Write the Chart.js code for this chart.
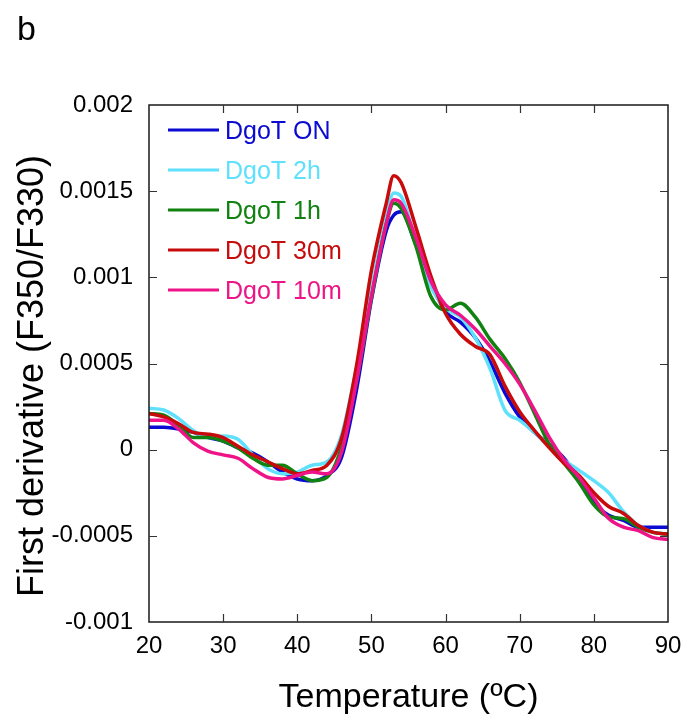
<!DOCTYPE html>
<html>
<head>
<meta charset="utf-8">
<script src="https://cdn.jsdelivr.net/npm/chart.js@4"></script>
<style>
  html, body { margin: 0; padding: 0; background: #ffffff; }
  #wrap { width: 685px; height: 718px; position: relative; }
</style>
</head>
<body>
<div id="wrap"><canvas id="c"></canvas></div>
<script>
// ---- Data ----
const temperatures = [20,22,24,26,28,30,32,34,36,38,40,42,44,46,48,50,52,53,54,56,58,60,62,64,66,68,70,72,74,76,78,80,82,84,86,88,90];

const seriesNames = ["DgoT ON", "DgoT 2h", "DgoT 1h", "DgoT 30m", "DgoT 10m"];
const seriesColors = ["#0a0ad2", "#5fe0fc", "#0f820f", "#c80a0a", "#ee1488"];

const dgotON  = [0.00013,0.00013,0.00012,0.00010,0.00007,0.00005,0.00001,-0.00002,-0.00007,-0.00013,-0.00017,-0.00018,-0.00015,-0.00004,0.00035,0.00087,0.00127,0.00136,0.00138,0.00119,0.00097,0.00080,0.00074,0.00065,0.00051,0.00033,0.00019,0.00010,0.00003,-0.00005,-0.00017,-0.00031,-0.00038,-0.00041,-0.00045,-0.00045,-0.00045];
const dgot2h  = [0.00024,0.00023,0.00018,0.00011,0.00007,0.00008,0.00006,-0.00003,-0.00011,-0.00014,-0.00013,-0.00009,-0.00007,0.00009,0.00048,0.00093,0.00135,0.00149,0.00147,0.00121,0.00095,0.00082,0.00077,0.00065,0.00047,0.00023,0.00017,0.00010,0.00002,-0.00006,-0.00012,-0.00018,-0.00025,-0.00036,-0.00044,-0.00048,-0.00049];
const dgot1h  = [0.00021,0.00020,0.00014,0.00007,0.00007,0.00005,0.00001,-0.00005,-0.00009,-0.00009,-0.00014,-0.00018,-0.00016,0.00002,0.00040,0.00088,0.00131,0.00143,0.00140,0.00118,0.00089,0.00081,0.00085,0.00077,0.00064,0.00053,0.00039,0.00021,0.00003,-0.00008,-0.00019,-0.00032,-0.00039,-0.00040,-0.00045,-0.00048,-0.00049];
const dgot30m = [0.00021,0.00019,0.00015,0.00010,0.00009,0.00007,0.00002,-0.00003,-0.00007,-0.00011,-0.00014,-0.00012,-0.00009,0.00007,0.00049,0.00104,0.00143,0.00159,0.00155,0.00129,0.00101,0.00079,0.00067,0.00060,0.00055,0.00037,0.00022,0.00011,0.00001,-0.00008,-0.00015,-0.00025,-0.00033,-0.00037,-0.00044,-0.00048,-0.00049];
const dgot10m = [0.00017,0.00017,0.00012,0.00004,-0.00001,-0.00003,-0.00005,-0.00011,-0.00016,-0.00017,-0.00015,-0.00013,-0.00014,-0.00001,0.00040,0.00089,0.00131,0.00145,0.00143,0.00123,0.00098,0.00084,0.00078,0.00070,0.00060,0.00050,0.00038,0.00023,0.00007,-0.00006,-0.00016,-0.00028,-0.00040,-0.00045,-0.00047,-0.00051,-0.00052];
const seriesValues = [dgotON, dgot2h, dgot1h, dgot30m, dgot10m];

const xTickLabels = ["20","30","40","50","60","70","80","90"];
const yTickLabels = ["-0.001","-0.0005","0","0.0005","0.001","0.0015","0.002"];
const xMin = 20, xMax = 90, xStep = 10;
const yMin = -0.001, yMax = 0.002, yStep = 0.0005;

const FONT = '"Liberation Sans", Arial, Helvetica, sans-serif';

// ---- Datasets ----
const drawOrder = [4, 3, 2, 1, 0]; // pink on top
const datasets = seriesNames.map((name, i) => ({
  label: name,
  data: temperatures.map((t, k) => ({ x: t, y: seriesValues[i][k] })),
  borderColor: seriesColors[i],
  backgroundColor: seriesColors[i],
  borderWidth: 3.5,
  pointRadius: 0,
  fill: false,
  cubicInterpolationMode: 'monotone',
  order: drawOrder[i]
}));

// ---- Decorations plugin: frame, inward ticks, legend, titles ----
const decor = {
  id: 'decor',
  afterDraw(chart) {
    const ctx = chart.ctx;
    const { left, right, top, bottom } = chart.chartArea;
    const xs = chart.scales.x, ys = chart.scales.y;
    ctx.save();
    // frame
    ctx.strokeStyle = '#1a1a1a';
    ctx.lineWidth = 1.5;
    ctx.strokeRect(left, top, right - left, bottom - top);
    // inward ticks
    ctx.strokeStyle = '#333';
    ctx.lineWidth = 1.2;
    const tl = 8;
    xs.ticks.forEach(t => {
      if (t.value <= xMin || t.value >= xMax) return;
      const px = Math.round(xs.getPixelForValue(t.value)) + 0.5;
      ctx.beginPath();
      ctx.moveTo(px, bottom); ctx.lineTo(px, bottom - tl);
      ctx.moveTo(px, top); ctx.lineTo(px, top + tl);
      ctx.stroke();
    });
    ys.ticks.forEach(t => {
      const idx = Math.round((t.value - yMin) / yStep);
      if (idx <= 0 || idx >= yTickLabels.length - 1) return;
      const py = Math.round(ys.getPixelForValue(t.value)) + 0.5;
      ctx.beginPath();
      ctx.moveTo(left, py); ctx.lineTo(left + tl, py);
      ctx.moveTo(right, py); ctx.lineTo(right - tl, py);
      ctx.stroke();
    });
    // legend
    ctx.font = '25px ' + FONT;
    ctx.textAlign = 'left';
    ctx.textBaseline = 'alphabetic';
    chart.data.datasets.forEach((ds, i) => {
      const y = 130 + i * 40;
      ctx.strokeStyle = ds.borderColor;
      ctx.lineWidth = 3;
      ctx.beginPath();
      ctx.moveTo(168, y); ctx.lineTo(219, y);
      ctx.stroke();
      ctx.fillStyle = ds.borderColor;
      ctx.fillText(ds.label, 225, y + 9);
    });
    // axis titles
    ctx.fillStyle = '#000';
    ctx.font = '34px ' + FONT;
    ctx.textAlign = 'center';
    ctx.fillText('Temperature (ºC)', (left + right) / 2, 707);
    ctx.save();
    ctx.translate(43, 376);
    ctx.rotate(-Math.PI / 2);
    ctx.font = '36px ' + FONT;
    ctx.fillText('First derivative (F350/F330)', 0, 0);
    ctx.restore();
    // panel label
    ctx.font = '34px ' + FONT;
    ctx.textAlign = 'left';
    ctx.fillText('b', 17, 40);
    ctx.restore();
  }
};

new Chart(document.getElementById('c'), {
  type: 'line',
  data: { datasets },
  options: {
    responsive: true,
    maintainAspectRatio: false,
    animation: false,
    layout: { padding: { left: 0, right: 17, top: 105, bottom: 0 } },
    plugins: { legend: { display: false }, tooltip: { enabled: false } },
    scales: {
      x: {
        type: 'linear',
        min: xMin, max: xMax,
        grid: { display: false, drawTicks: false },
        border: { display: false },
        ticks: {
          stepSize: xStep,
          padding: 10,
          color: '#000',
          font: { family: FONT, size: 24 },
          maxRotation: 0,
          callback: (v) => xTickLabels[Math.round((v - xMin) / xStep)]
        },
        afterFit: (s) => { s.height = 96; s.paddingLeft = 0; s.paddingRight = 0; }
      },
      y: {
        type: 'linear',
        min: yMin, max: yMax,
        grid: { display: false, drawTicks: false },
        border: { display: false },
        ticks: {
          stepSize: yStep,
          padding: 16,
          color: '#000',
          font: { family: FONT, size: 24 },
          callback: (v) => yTickLabels[Math.round((v - yMin) / yStep)]
        },
        afterFit: (s) => { s.width = 149; s.paddingTop = 0; s.paddingBottom = 0; }
      }
    }
  },
  plugins: [decor]
});
</script>
</body>
</html>
